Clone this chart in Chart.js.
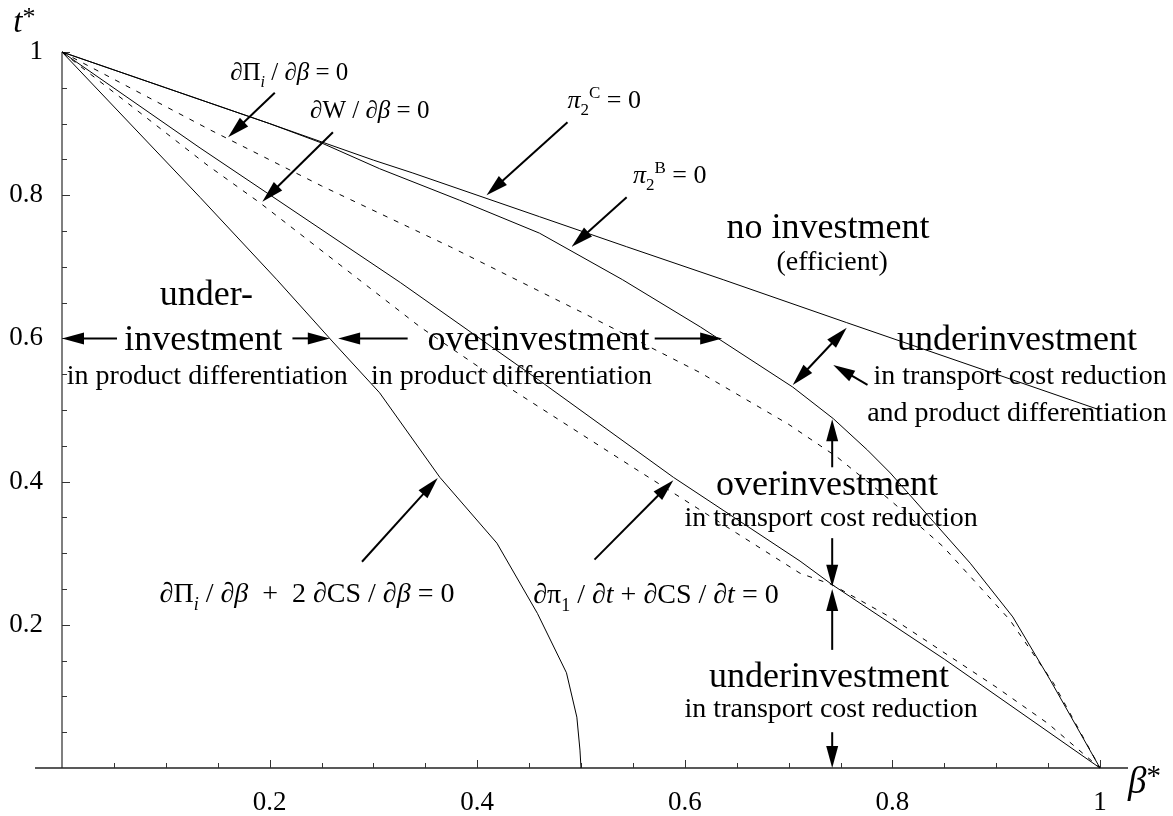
<!DOCTYPE html>
<html>
<head>
<meta charset="utf-8">
<script src="https://cdn.jsdelivr.net/npm/chart.js@4.4.1/dist/chart.umd.min.js"></script>
<style>
  html, body { margin: 0; padding: 0; background: #fff; }
  #wrap { width: 1173px; height: 816px; }
</style>
</head>
<body>
<div id="wrap"><canvas id="chart" width="1173" height="816"></canvas></div>
<script>
// curves: beta* on x, t* on y
const piC_beta = [0, 0.1, 0.2, 0.3, 0.338, 0.46, 0.544, 0.637, 0.756, 0.9, 1];
const piC_t    = [1, 0.95, 0.9, 0.849, 0.831, 0.77, 0.728, 0.682, 0.622, 0.55, 0.5];

const piB_beta = [0, 0.1, 0.2, 0.25, 0.306, 0.383, 0.46, 0.54, 0.615, 0.704, 0.743, 0.776, 0.798, 0.875, 0.916, 0.952, 1];
const piB_t    = [1, 0.95, 0.9, 0.873, 0.837, 0.793, 0.747, 0.682, 0.616, 0.532, 0.488, 0.444, 0.412, 0.286, 0.211, 0.123, 0];

const dPi_beta = [0, 0.143, 0.25, 0.374, 0.5, 0.615, 0.7, 0.747, 0.798, 0.849, 0.913, 0.955, 1];
const dPi_t    = [1, 0.891, 0.813, 0.728, 0.637, 0.552, 0.48, 0.434, 0.374, 0.309, 0.207, 0.119, 0];

const dW_beta = [0, 0.14, 0.191, 0.345, 0.434, 0.55, 0.65, 0.711, 0.742, 0.8, 0.9, 0.95, 1];
const dW_t    = [1, 0.842, 0.789, 0.616, 0.528, 0.42, 0.328, 0.272, 0.256, 0.209, 0.113, 0.062, 0];

const dpi1_beta = [0, 0.133, 0.326, 0.463, 0.589, 0.711, 0.742, 0.85, 1];
const dpi1_t    = [1, 0.866, 0.678, 0.538, 0.406, 0.289, 0.256, 0.152, 0];

const dCS_beta = [0, 0.133, 0.207, 0.261, 0.306, 0.364, 0.419, 0.458, 0.486, 0.496, 0.499, 0.5];
const dCS_t    = [1, 0.797, 0.682, 0.595, 0.524, 0.406, 0.314, 0.216, 0.133, 0.071, 0.025, 0];

const xTicks = [0.2, 0.4, 0.6, 0.8, 1];
const yTicks = [0.2, 0.4, 0.6, 0.8, 1];

const SERIF = '"Liberation Serif", "Times New Roman", serif';

// text in the plot: segments, beta, t (baseline), size, align
const notes = [
    [[['∂Π'], ['i', 'isub'], [' / ∂'], ['β', 'i'], [' = 0']], 0.162, 0.961, 25, 'left'],
    [[['∂W / ∂'], ['β', 'i'], [' = 0']], 0.239, 0.908, 25, 'left'],
    [[['π', 'i'], ['2', 'sub'], ['C', 'sup'], [' = 0']], 0.487, 0.922, 26, 'left'],
    [[['π', 'i'], ['2', 'sub'], ['B', 'sup'], [' = 0']], 0.550, 0.817, 26, 'left'],
    [[['no investment']], 0.738, 0.740, 36, 'center'],
    [[['(efficient)']], 0.742, 0.696, 28, 'center'],
    [[['underinvestment']], 0.920, 0.584, 36, 'center'],
    [[['in transport cost reduction']], 0.923, 0.536, 28, 'center'],
    [[['and product differentiation']], 0.920, 0.485, 28, 'center'],
    [[['under-']], 0.139, 0.647, 36, 'center'],
    [[['investment']], 0.136, 0.584, 36, 'center'],
    [[['in product differentiation']], 0.140, 0.536, 28, 'center'],
    [[['overinvestment']], 0.459, 0.584, 36, 'center'],
    [[['in product differentiation']], 0.433, 0.536, 28, 'center'],
    [[['overinvestment']], 0.737, 0.381, 36, 'center'],
    [[['in transport cost reduction']], 0.741, 0.338, 28, 'center'],
    [[['underinvestment']], 0.739, 0.113, 36, 'center'],
    [[['in transport cost reduction']], 0.741, 0.071, 28, 'center'],
    [[['∂Π'], ['i', 'isub'], [' / ∂'], ['β', 'i'], ['  +  2 ∂CS / ∂'], ['β', 'i'], [' = 0']], 0.094, 0.232, 28, 'left'],
    [[['∂π'], ['1', 'sub'], [' / ∂'], ['t', 'i'], [' + ∂CS / ∂'], ['t', 'i'], [' = 0']], 0.454, 0.230, 28, 'left'],
    [[['t', 'i'], ['*', 'star']], -0.047, 1.028, 33, 'left'],
    [[['β', 'i'], ['*', 'star']], 1.027, -0.035, 37, 'left']
];

// arrows: from (beta, t) to (beta, t), double-headed?
const arrows = [
    [0.205, 0.943, 0.160, 0.881, false],
    [0.261, 0.888, 0.193, 0.791, false],
    [0.487, 0.902, 0.409, 0.800, false],
    [0.544, 0.797, 0.491, 0.728, false],
    [0.704, 0.535, 0.756, 0.615, true],
    [0.776, 0.535, 0.743, 0.563, false],
    [0.053, 0.6, 0, 0.6, false],
    [0.222, 0.6, 0.258, 0.6, false],
    [0.333, 0.6, 0.266, 0.6, false],
    [0.571, 0.6, 0.636, 0.6, false],
    [0.742, 0.420, 0.742, 0.487, false],
    [0.742, 0.321, 0.742, 0.253, false],
    [0.742, 0.165, 0.742, 0.25, false],
    [0.742, 0.05, 0.742, 0, false],
    [0.289, 0.288, 0.362, 0.405, false],
    [0.513, 0.291, 0.589, 0.402, false]
];

function pts(xs, ys) { return xs.map((x, i) => ({ x: x, y: ys[i] })); }
function majorOf(v, list) { return list.find(m => Math.abs(m - v) < 1e-6); }

function segFont(style, size) {
    let f = 1;
    if (style === 'sub' || style === 'sup' || style === 'isub') f = 0.65;
    if (style === 'star') f = 0.78;
    const ital = style === 'i' || style === 'isub';
    return (ital ? 'italic ' : '') + Math.round(size * f) + 'px ' + SERIF;
}

function drawRich(ctx, segs, x, y, size, align) {
    let total = 0;
    segs.forEach(s => { ctx.font = segFont(s[1], size); total += ctx.measureText(s[0]).width; });
    let cx = align === 'center' ? x - total / 2 : x;
    ctx.textAlign = 'left';
    ctx.textBaseline = 'alphabetic';
    segs.forEach(s => {
        const st = s[1];
        ctx.font = segFont(st, size);
        let dy = 0;
        if (st === 'sub' || st === 'isub') dy = size * 0.28;
        if (st === 'sup') dy = -size * 0.38;
        if (st === 'star') dy = -size * 0.22;
        ctx.fillText(s[0], cx, y + dy);
        cx += ctx.measureText(s[0]).width;
    });
}

function arrowHead(ctx, x, y, ang) {
    const len = 22, half = 6;
    const c = Math.cos(ang), s = Math.sin(ang);
    ctx.beginPath();
    ctx.moveTo(x, y);
    ctx.lineTo(x - len * c + half * s, y - len * s - half * c);
    ctx.lineTo(x - len * c - half * s, y - len * s + half * c);
    ctx.closePath();
    ctx.fill();
}

function drawArrow(ctx, x1, y1, x2, y2, both) {
    const ang = Math.atan2(y2 - y1, x2 - x1);
    const c = Math.cos(ang), s = Math.sin(ang);
    ctx.beginPath();
    ctx.moveTo(both ? x1 + 16 * c : x1, both ? y1 + 16 * s : y1);
    ctx.lineTo(x2 - 16 * c, y2 - 16 * s);
    ctx.stroke();
    arrowHead(ctx, x2, y2, ang);
    if (both) arrowHead(ctx, x1, y1, ang + Math.PI);
}

const figureMarks = {
    id: 'figureMarks',
    beforeDatasetsDraw(chart) {
        const ctx = chart.ctx, xs = chart.scales.x, ys = chart.scales.y;
        const x0 = xs.getPixelForValue(0), y0 = ys.getPixelForValue(0);
        ctx.save();
        ctx.lineWidth = 1.5;
        ctx.strokeStyle = '#555';
        ctx.beginPath();
        ctx.moveTo(x0, ys.getPixelForValue(1));
        ctx.lineTo(x0, y0);
        ctx.stroke();
        ctx.strokeStyle = '#222';
        ctx.beginPath();
        ctx.moveTo(xs.getPixelForValue(-0.026), y0);
        ctx.lineTo(xs.getPixelForValue(1.027), y0);
        ctx.stroke();
        ctx.lineWidth = 1;
        ctx.strokeStyle = '#333';
        ctx.beginPath();
        xs.ticks.forEach(t => {
            if (t.value <= 0) return;
            const px = Math.round(xs.getPixelForValue(t.value)) + 0.5;
            const len = majorOf(t.value, xTicks) !== undefined ? 8 : 5;
            ctx.moveTo(px, y0);
            ctx.lineTo(px, y0 - len);
        });
        ys.ticks.forEach(t => {
            if (t.value <= 0) return;
            const py = Math.round(ys.getPixelForValue(t.value)) + 0.5;
            const len = majorOf(t.value, yTicks) !== undefined ? 8 : 5;
            ctx.moveTo(x0, py);
            ctx.lineTo(x0 + len, py);
        });
        ctx.stroke();
        ctx.restore();
    },
    afterDatasetsDraw(chart) {
        const ctx = chart.ctx, xs = chart.scales.x, ys = chart.scales.y;
        ctx.save();
        ctx.fillStyle = '#000';
        ctx.strokeStyle = '#000';
        ctx.lineWidth = 2;
        arrows.forEach(a => {
            drawArrow(ctx, xs.getPixelForValue(a[0]), ys.getPixelForValue(a[1]),
                xs.getPixelForValue(a[2]), ys.getPixelForValue(a[3]), a[4]);
        });
        notes.forEach(n => {
            drawRich(ctx, n[0], xs.getPixelForValue(n[1]), ys.getPixelForValue(n[2]), n[3], n[4]);
        });
        ctx.restore();
    }
};

function curve(label, xs, ys, dashed) {
    return {
        label: label,
        data: pts(xs, ys),
        showLine: true,
        borderColor: '#000',
        borderWidth: 1,
        borderDash: dashed ? [5, 7] : [],
        pointRadius: 0,
        tension: 0,
        clip: 10
    };
}

window.addEventListener('DOMContentLoaded', () => {
    const ctx = document.getElementById('chart').getContext('2d');
    new Chart(ctx, {
        type: 'scatter',
        data: {
            datasets: [
                curve('pi2C', piC_beta, piC_t, false),
                curve('pi2B', piB_beta, piB_t, false),
                curve('dPi', dPi_beta, dPi_t, true),
                curve('dW', dW_beta, dW_t, true),
                curve('dpi1', dpi1_beta, dpi1_t, false),
                curve('dPi2CS', dCS_beta, dCS_t, false)
            ]
        },
        options: {
            responsive: false,
            animation: false,
            devicePixelRatio: 1,
            layout: { padding: { top: 52, right: 73, left: 0, bottom: 0 } },
            plugins: { legend: { display: false }, tooltip: { enabled: false } },
            scales: {
                x: {
                    type: 'linear', min: 0, max: 1,
                    grid: { display: false, drawTicks: false },
                    border: { display: false },
                    ticks: {
                        stepSize: 0.05, autoSkip: false, maxRotation: 0,
                        padding: 19, color: '#000',
                        font: { family: SERIF, size: 27 },
                        callback: v => { const m = majorOf(v, xTicks); return m === undefined ? '' : String(m); }
                    },
                    afterFit: s => { s.height = 48; }
                },
                y: {
                    type: 'linear', min: 0, max: 1,
                    grid: { display: false, drawTicks: false },
                    border: { display: false },
                    ticks: {
                        stepSize: 0.05, autoSkip: false,
                        padding: 19, color: '#000',
                        font: { family: SERIF, size: 27 },
                        callback: v => { const m = majorOf(v, yTicks); return m === undefined ? '' : String(m); }
                    },
                    afterFit: s => { s.width = 62; }
                }
            }
        },
        plugins: [figureMarks]
    });
});
</script>
</body>
</html>
